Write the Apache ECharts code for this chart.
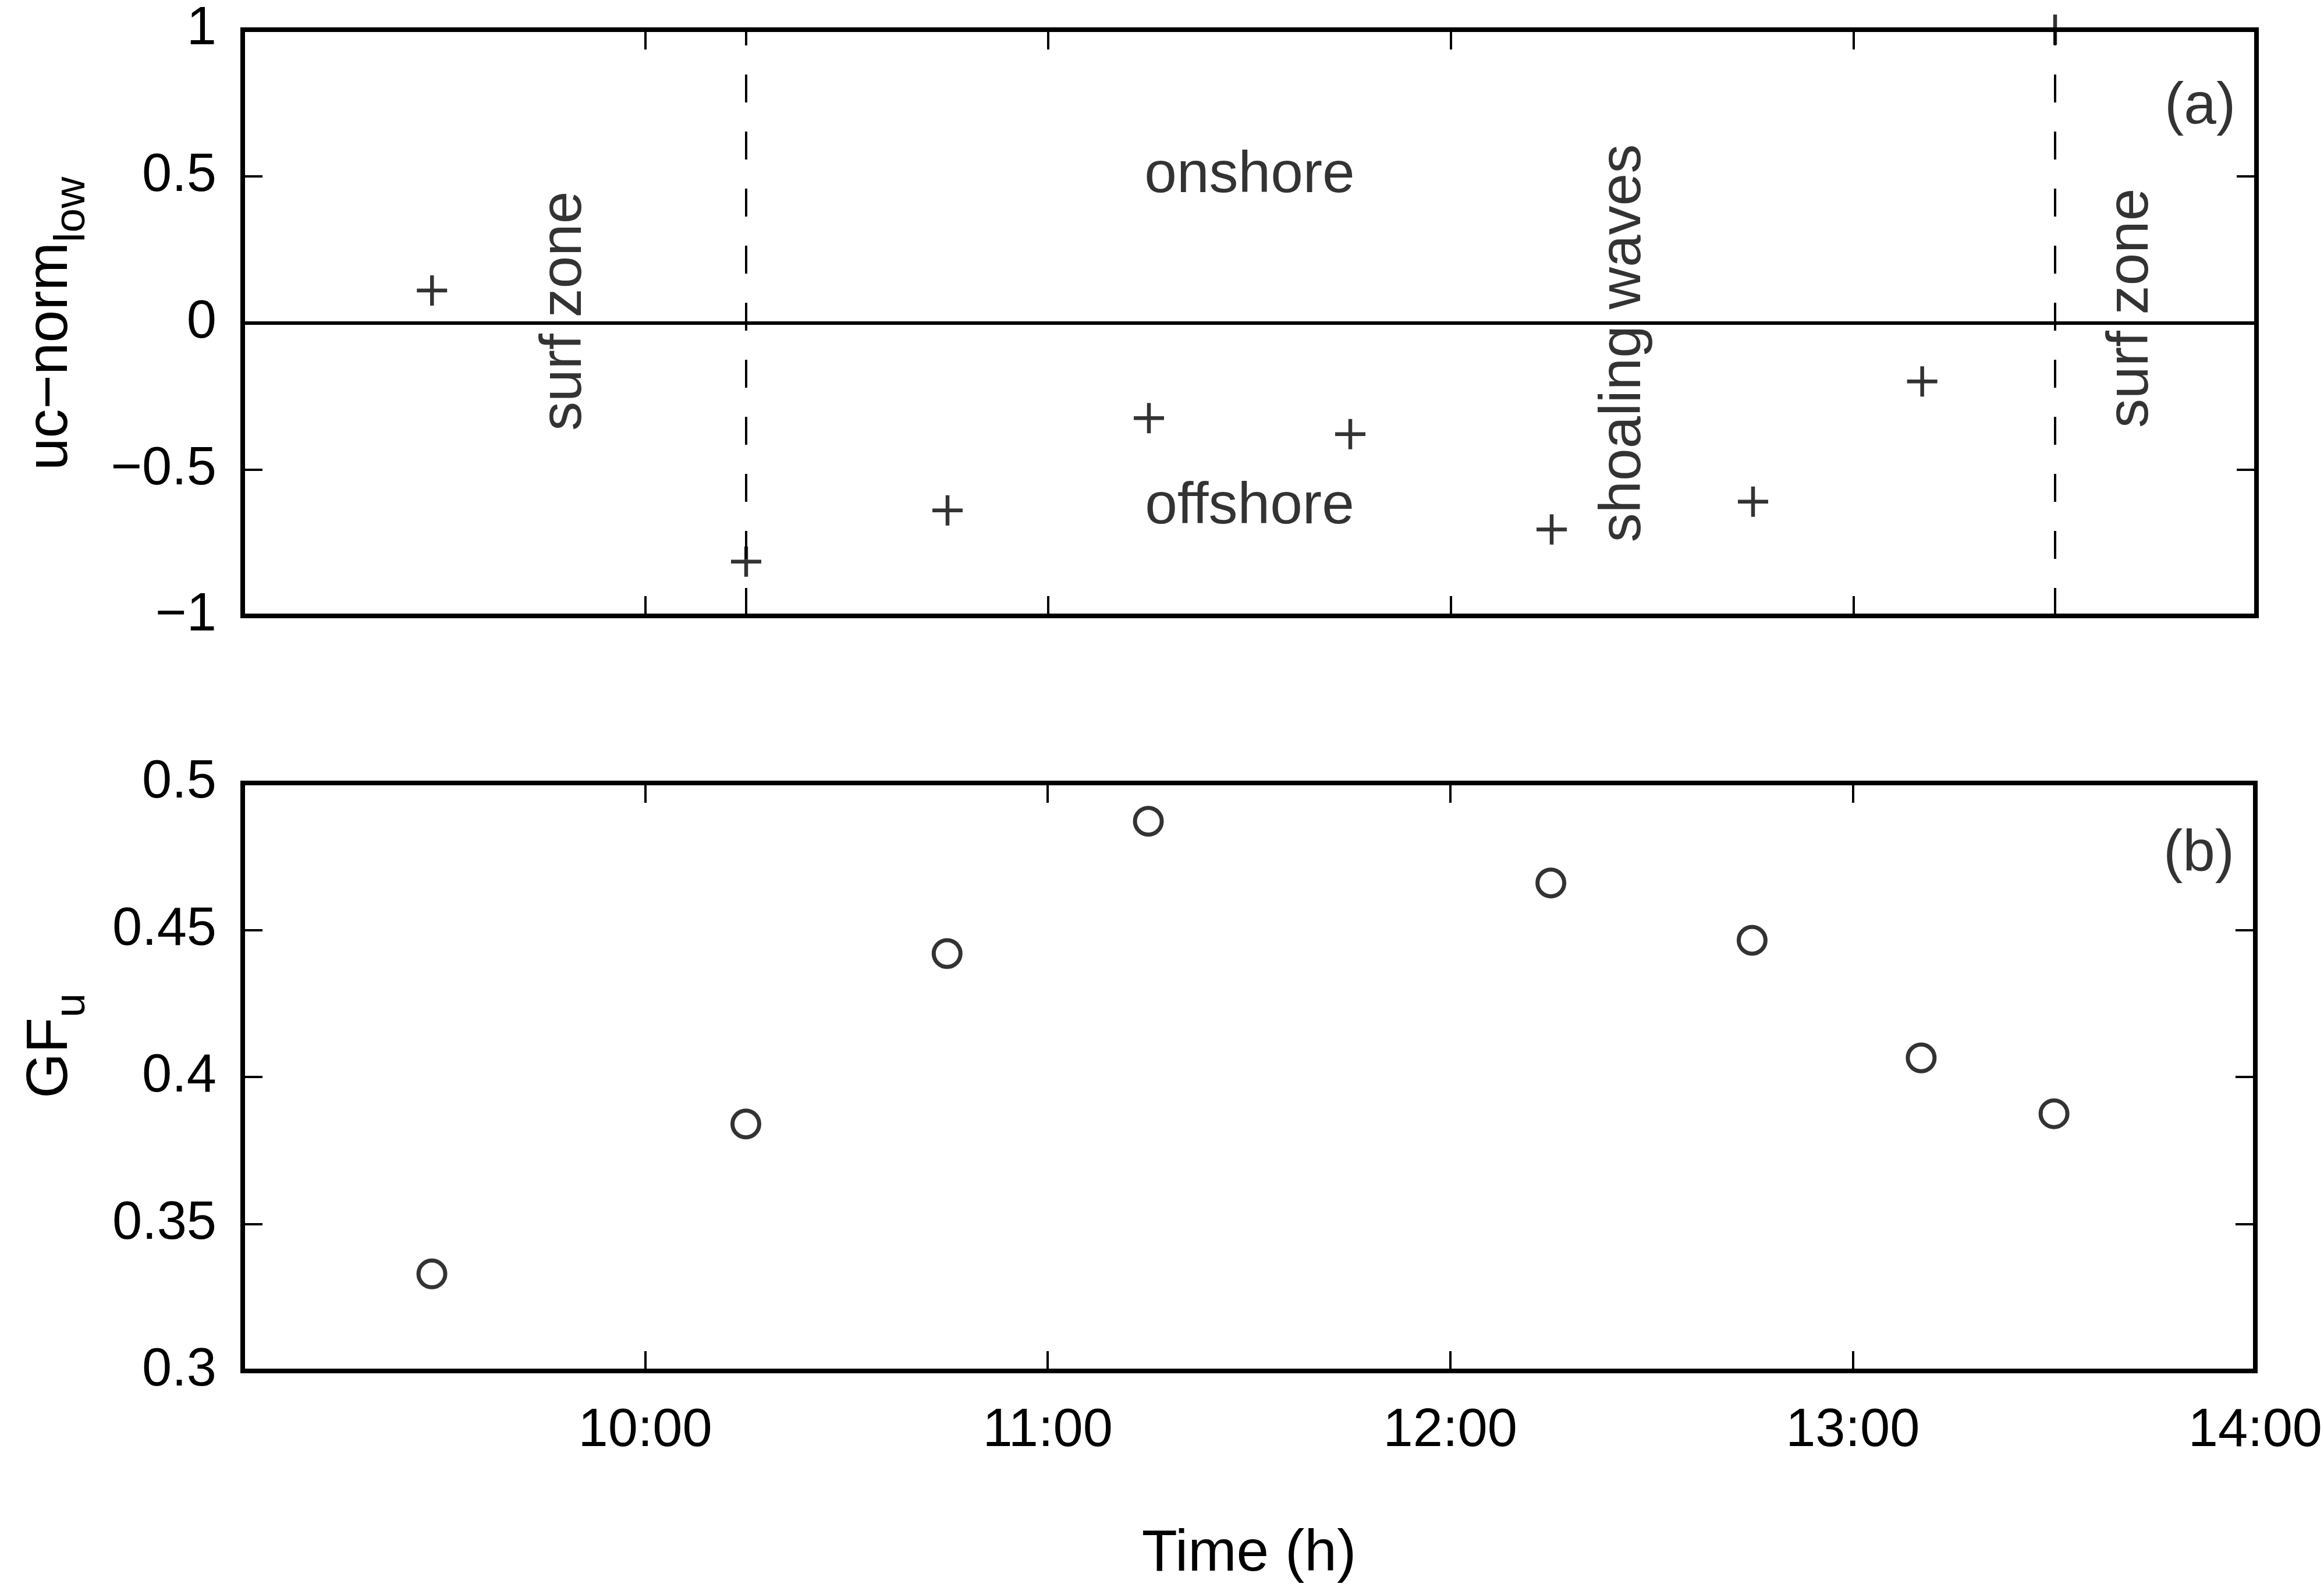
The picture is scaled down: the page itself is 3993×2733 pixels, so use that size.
<!DOCTYPE html>
<html><head><meta charset="utf-8">
<script src="https://cdn.jsdelivr.net/npm/echarts@6/dist/echarts.min.js"></script>
<style>html,body{margin:0;padding:0;background:#fff}#c{width:3993px;height:2733px}</style>
</head><body><div id="c"></div>
<script>
// ---- data ----
const timesA = [9.47, 10.25, 10.75, 11.25, 11.75, 12.25, 12.75, 13.17, 13.5];
const ucNormLow = [0.11, -0.815, -0.64, -0.325, -0.38, -0.705, -0.61, -0.20, 1.0];
const timesB = [9.47, 10.25, 10.75, 11.25, 12.25, 12.75, 13.17, 13.5];
const gfU = [0.333, 0.384, 0.442, 0.487, 0.466, 0.4465, 0.4065, 0.3875];
const regimeBoundaries = [10.25, 13.5];
const xTickLabels = ['', '10:00', '11:00', '12:00', '13:00', '14:00'];
const yTicksA = ['\u22121', '\u22120.5', '0', '0.5', '1'];
const yTicksB = ['0.3', '0.35', '0.4', '0.45', '0.5'];
const annotationTexts = ['surf zone', 'onshore', 'offshore', 'shoaling waves', 'surf zone', '(a)'];
const annotationX = [9.8, 11.5, 11.5, 12.43, 13.69, 13.86];
const annotationY = [0.04, 0.5, -0.63, -0.07, 0.05, 0.735];
const annotationRotate = [90, 0, 0, 90, 90, 0];
const panelBText = ['(b)'];
const panelBX = [13.86];
const panelBY = [0.4756];

// ---- style ----
const FONT = '"Liberation Sans", Arial, Helvetica, sans-serif';
const BLACK = '#000';
const PLUS = 'path://M-1.25,-10L1.25,-10L1.25,10L-1.25,10Z M-10,-1.25L10,-1.25L10,1.25L-10,1.25Z';

function xAxisDef(grid, pos, labels, name) {
  const a = {
    gridIndex: grid, type: 'value', position: pos, min: 9, max: 14, interval: 1,
    axisLine: {show: true, onZero: false, lineStyle: {color: BLACK, width: 8, cap: 'square'}},
    axisTick: {show: true, inside: true, length: 34, lineStyle: {color: BLACK, width: 4}},
    splitLine: {show: false},
    axisLabel: {show: labels, color: BLACK, fontSize: 92, fontFamily: FONT, margin: 58,
      formatter: v => xTickLabels[Math.round(v - 9)]}
  };
  if (name) {
    a.name = name; a.nameLocation = 'middle'; a.nameGap = 265;
    a.nameTextStyle = {color: BLACK, fontSize: 100, fontFamily: FONT};
  }
  return a;
}
function yAxisDef(grid, pos, min, max, interval, labels, fmt, name, shift) {
  const a = {
    gridIndex: grid, type: 'value', position: pos, min: min, max: max, interval: interval,
    axisLine: {show: true, onZero: false, lineStyle: {color: BLACK, width: 8, cap: 'square'}},
    axisTick: {show: true, inside: true, length: 34, lineStyle: {color: BLACK, width: 4}},
    splitLine: {show: false},
    axisLabel: {show: labels, color: BLACK, fontSize: 92, fontFamily: FONT, margin: 45, formatter: fmt}
  };
  if (name) {
    a.name = name; a.nameLocation = 'middle'; a.nameGap = 255; a.nameRotate = 90;
    a.nameTextStyle = {color: BLACK, fontFamily: FONT, padding: [0, 0, 0, shift], rich: subRich};
  }
  return a;
}
const subRich = {
  m: {fontSize: 100, lineHeight: 100, fontFamily: FONT, color: BLACK, verticalAlign: 'top'},
  s: {fontSize: 75, lineHeight: 75, fontFamily: FONT, color: BLACK, verticalAlign: 'bottom'},
  h: {fontSize: 10, lineHeight: 125, fontFamily: FONT, color: BLACK, verticalAlign: 'bottom'}
};

const annData = annotationTexts.map((t, i) => ({
  value: [annotationX[i], annotationY[i]],
  label: {formatter: t, rotate: annotationRotate[i]}
}));
const annDataB = panelBText.map((t, i) => ({
  value: [panelBX[i], panelBY[i]],
  label: {formatter: t}
}));
const annLabel = {show: true, position: 'inside', color: BLACK, fontSize: 100, fontFamily: FONT};

const chart = echarts.init(document.getElementById('c'), null, {renderer: 'canvas'});
chart.setOption({
  animation: false,
  backgroundColor: '#fff',
  grid: [
    {left: 417, top: 51, width: 3460, height: 1007},
    {left: 417, top: 1345, width: 3460, height: 1010}
  ],
  xAxis: [
    xAxisDef(0, 'bottom', false),
    xAxisDef(0, 'top', false),
    xAxisDef(1, 'bottom', true, 'Time (h)'),
    xAxisDef(1, 'top', false)
  ],
  yAxis: [
    yAxisDef(0, 'left', -1, 1, 0.5, true, v => yTicksA[Math.round((v + 1) / 0.5)],
      '{m|uc\u2212norm}{s|low}{h| }', 0),
    yAxisDef(0, 'right', -1, 1, 0.5, false, null),
    yAxisDef(1, 'left', 0.3, 0.5, 0.05, true, v => yTicksB[Math.round((v - 0.3) / 0.05)],
      '{m|GF}{s|u}{h| }', 110),
    yAxisDef(1, 'right', 0.3, 0.5, 0.05, false, null)
  ],
  series: [
    {
      type: 'scatter', xAxisIndex: 0, yAxisIndex: 0, clip: false, silent: true,
      symbol: PLUS, symbolSize: 52, itemStyle: {color: BLACK},
      data: timesA.map((t, i) => [t, ucNormLow[i]]),
      markLine: {
        silent: true, symbol: ['none', 'none'], label: {show: false}, animation: false,
        data: [{yAxis: 0, lineStyle: {color: BLACK, type: 'solid', width: 6}}]
          .concat(regimeBoundaries.map(x => ({xAxis: x, lineStyle: {color: BLACK, type: [48, 50], width: 4}})))
      },
      z: 5
    },
    {
      type: 'scatter', xAxisIndex: 0, yAxisIndex: 0, silent: true, clip: false,
      symbolSize: 1, itemStyle: {color: 'rgba(0,0,0,0)'},
      label: annLabel, data: annData, z: 6
    },
    {
      type: 'scatter', xAxisIndex: 2, yAxisIndex: 2, silent: true, clip: false,
      symbol: 'circle', symbolSize: 46,
      itemStyle: {color: 'rgba(0,0,0,0)', borderColor: BLACK, borderWidth: 7},
      data: timesB.map((t, i) => [t, gfU[i]]), z: 5
    },
    {
      type: 'scatter', xAxisIndex: 2, yAxisIndex: 2, silent: true, clip: false,
      symbolSize: 1, itemStyle: {color: 'rgba(0,0,0,0)'},
      label: annLabel, data: annDataB, z: 6
    }
  ]
});
</script>
</body></html>
